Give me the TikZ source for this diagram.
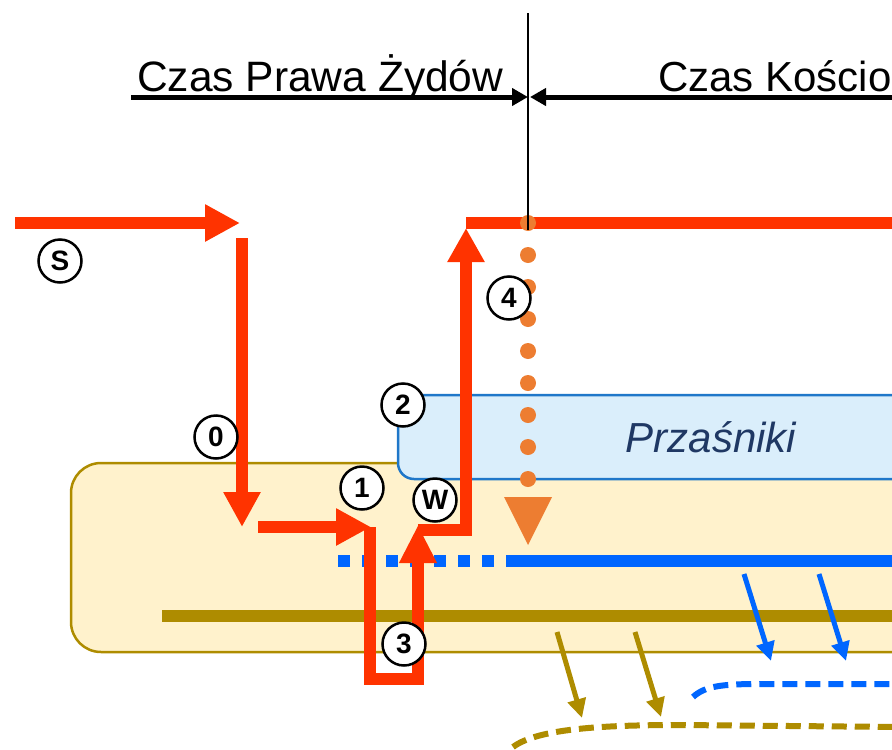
\documentclass[tikz,border=0pt]{standalone}
\usepackage{fontspec}
\setmainfont{Liberation Sans}
\usetikzlibrary{arrows.meta}
\definecolor{cred}{HTML}{FF3300}
\definecolor{corange}{HTML}{ED7D31}
\definecolor{cblue}{HTML}{0066FF}
\definecolor{colive}{HTML}{AE8C00}
\definecolor{cyellow}{HTML}{FFF2CC}
\definecolor{clblue}{HTML}{DAEEFB}
\definecolor{cbbord}{HTML}{1F77C9}
\definecolor{cnavy}{HTML}{1F3864}
\tikzset{
  redpath/.style={draw=cred, line width=12pt, line join=miter},
  redarrow/.style={redpath, -{Triangle[length=35pt,width=35pt]}},
  blackarrow/.style={draw=black, line width=5pt, -{Triangle[length=16pt,width=17pt]}},
  smallarrow/.style={line width=5pt, -{Triangle[length=19pt,width=18pt]}},
  dashcurve/.style={line width=6pt, dash pattern=on 15pt off 8pt},
  lbl/.style={circle, draw=black, line width=2.5pt, fill=white, minimum size=43pt, inner sep=0pt, font=\fontsize{28}{30}\selectfont\bfseries},
  dotorange/.style={circle, fill=corange, minimum size=16pt, inner sep=0pt},
  bigtext/.style={font=\fontsize{42.5}{48}\selectfont, inner sep=0pt}
}
\begin{document}
\begin{tikzpicture}[x=1pt,y=-1pt]
\useasboundingbox (0,0) rectangle (892,750);
\clip (0,0) rectangle (892,750);
% boxes
\draw[fill=cyellow, draw=colive, line width=2.5pt, rounded corners=30pt] (71,463) rectangle (940,652);
\draw[fill=clblue, draw=cbbord, line width=2.5pt, rounded corners=16pt] (398,395) rectangle (940,479);
\node[bigtext, font=\fontsize{42}{48}\selectfont\itshape, text=cnavy, anchor=base] (przas) at (711,452) {Przaśniki};
% blue and olive lines
\coordinate (bd1) at (338,561);
\coordinate (bd2) at (494,561);
\coordinate (bs1) at (506,561);
\coordinate (bs2) at (900,561);
\draw[cblue, line width=12pt, dash pattern=on 12pt off 12pt] (bd1) -- (bd2);
\draw[cblue, line width=12pt] (bs1) -- (bs2);
\coordinate (ol1) at (162,616);
\coordinate (ol2) at (900,616);
\draw[colive, line width=12pt] (ol1) -- (ol2);
% small arrows
\coordinate (ba1s) at (744,574); \coordinate (ba1e) at (771,661);
\coordinate (ba2s) at (819,574); \coordinate (ba2e) at (846,661);
\draw[smallarrow, cblue] (ba1s) -- (ba1e);
\draw[smallarrow, cblue] (ba2s) -- (ba2e);
\coordinate (oa1s) at (557,632); \coordinate (oa1e) at (582,718);
\coordinate (oa2s) at (635,632); \coordinate (oa2e) at (661,717);
\draw[smallarrow, colive] (oa1s) -- (oa1e);
\draw[smallarrow, colive] (oa2s) -- (oa2e);
% dashed curves
\coordinate (bc1) at (693,697); \coordinate (bc2) at (760,684); \coordinate (bc3) at (900,684);
\draw[dashcurve, cblue] (bc1) .. controls (705,686) and (722,684) .. (bc2) -- (bc3);
\coordinate (oc1) at (513,747); \coordinate (oc2) at (680,725); \coordinate (oc3) at (900,727);
\draw[dashcurve, colive] (oc1) .. controls (537,729) and (600,725) .. (oc2) -- (oc3);
% red paths
\coordinate (r0) at (15,223); \coordinate (r1) at (240,223);
\draw[redarrow] (r0) -- (r1);
\coordinate (r2) at (242,238); \coordinate (r3) at (242,527);
\draw[redarrow] (r2) -- (r3);
\coordinate (r4) at (258,527); \coordinate (r5) at (371,527);
\draw[redarrow] (r4) -- (r5);
\coordinate (r6) at (370,527); \coordinate (r7) at (370,679); \coordinate (r8) at (418,679); \coordinate (r9) at (418,525);
\draw[redpath, -{Triangle[length=38pt,width=35pt]}] (r6) -- (r7) -- (r8) -- (r9);
\coordinate (r10) at (418,530); \coordinate (r11) at (466,530); \coordinate (r12) at (466,228);
\draw[redpath, -{Triangle[length=34pt,width=35pt]}] (r10) -- (r11) -- (r12);
\coordinate (r13) at (466,223); \coordinate (r14) at (900,223);
\draw[redpath] (r13) -- (r14);
% orange dotted
\foreach \yy in {223,255,287,319,351,383,415,447,479} {
  \node[dotorange] at (528,\yy) {};
}
\coordinate (ot1) at (504,497); \coordinate (ot2) at (552,497); \coordinate (ot3) at (528,545);
\fill[corange] (ot1) -- (ot2) -- (ot3) -- cycle;
% black time arrows
\coordinate (vt) at (528,13); \coordinate (vb) at (528,230);
\draw[line width=1.5pt] (vt) -- (vb);
\coordinate (la) at (131,97); \coordinate (lb) at (528,97);
\draw[blackarrow] (la) -- (lb);
\coordinate (ra) at (900,97); \coordinate (rb) at (530,97);
\draw[blackarrow] (ra) -- (rb);
\node[bigtext, anchor=base west] (t1) at (137,91) {Czas Prawa Żydów};
\node[bigtext, font=\fontsize{42}{48}\selectfont, anchor=base west] (t2) at (658,91) {Czas Kościo};
% labels
\node[lbl] (lS) at (60,261) {S};
\node[lbl] (l0) at (216,437) {0};
\node[lbl] (l1) at (362,488) {1};
\node[lbl] (l2) at (403,405) {2};
\node[lbl] (lW) at (435,500) {W};
\node[lbl] (l3) at (404,644) {3};
\node[lbl] (l4) at (509,298) {4};
\end{tikzpicture}
\end{document}
